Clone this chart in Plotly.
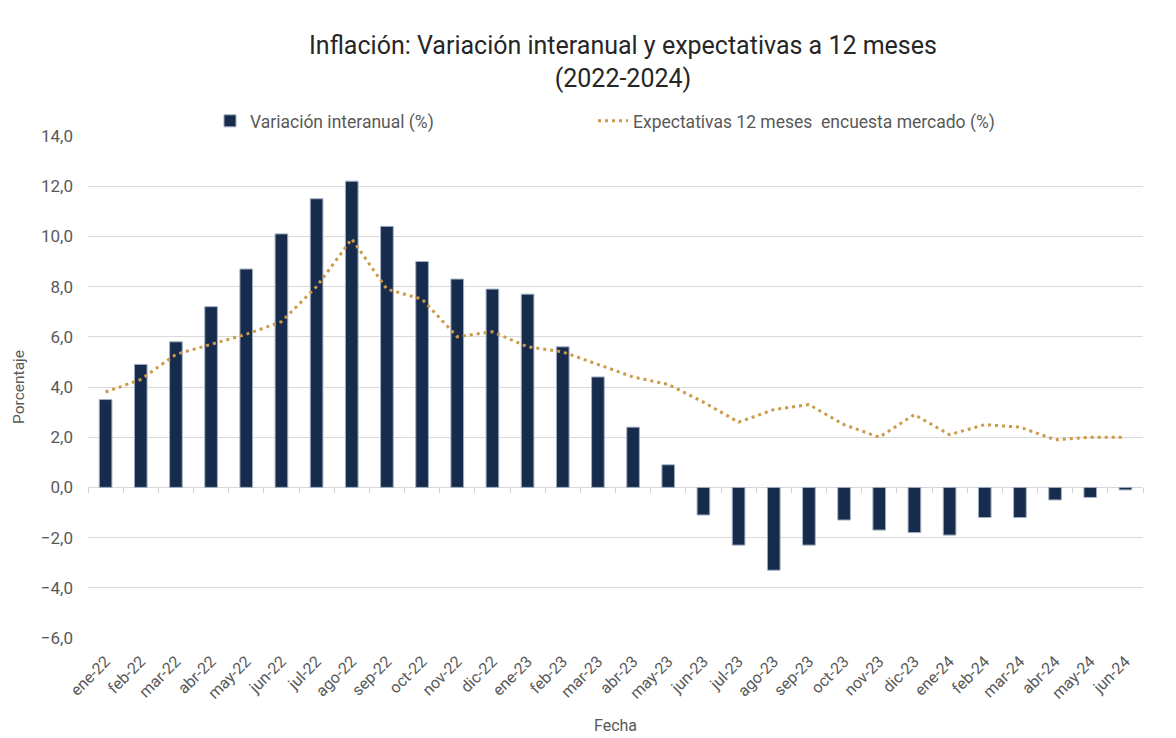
import plotly.graph_objects as go

meses = ["ene-22","feb-22","mar-22","abr-22","may-22","jun-22","jul-22","ago-22","sep-22","oct-22",
         "nov-22","dic-22","ene-23","feb-23","mar-23","abr-23","may-23","jun-23","jul-23","ago-23",
         "sep-23","oct-23","nov-23","dic-23","ene-24","feb-24","mar-24","abr-24","may-24","jun-24"]
variacion = [3.5, 4.9, 5.8, 7.2, 8.7, 10.1, 11.5, 12.2, 10.4, 9.0,
             8.3, 7.9, 7.7, 5.6, 4.4, 2.4, 0.9, -1.1, -2.3, -3.3,
             -2.3, -1.3, -1.7, -1.8, -1.9, -1.2, -1.2, -0.5, -0.4, -0.1]
expectativas = [3.8, 4.3, 5.3, 5.7, 6.1, 6.6, 8.0, 9.9, 7.9, 7.5,
                6.0, 6.2, 5.6, 5.4, 4.9, 4.4, 4.1, 3.4, 2.6, 3.1,
                3.3, 2.5, 2.0, 2.9, 2.1, 2.5, 2.4, 1.9, 2.0, 2.0]

FONT = "Roboto, sans-serif"
GRAY = "#595959"
GRID = "#D9D9D9"
Y_MIN, Y_MAX = -6, 14

fig = go.Figure()
fig.add_trace(go.Bar(
    x=meses, y=variacion, name="Variación interanual (%)",
    marker=dict(color="#172B4D", line=dict(color="#A3AFC2", width=1)),
    width=0.36, legend="legend",
))
fig.add_trace(go.Scatter(
    x=meses, y=expectativas, name="Expectativas 12 meses  encuesta mercado (%)",
    mode="lines", line=dict(color="#CC9A48", width=3, dash="3px,4px"),
    legend="legend2",
))
# invisible helper trace so the category-boundary tick axis (on y = 0) is drawn
fig.add_trace(go.Scatter(
    x=list(range(len(meses))), y=[None] * len(meses), xaxis="x2",
    showlegend=False, hoverinfo="skip", mode="markers",
))

legend_font = dict(family=FONT, size=17.5, color=GRAY)
fig.update_layout(
    width=1168, height=730,
    paper_bgcolor="white", plot_bgcolor="white",
    separators=",.",
    font=dict(family=FONT, color=GRAY, size=16),
    margin=dict(l=80, r=33, t=128, b=100, autoexpand=False),
    title=dict(
        text="Inflación: Variación interanual y expectativas a 12 meses<br>(2022-2024)",
        x=615/1168, xref="container", xanchor="center",
        y=1 - 46/730, yref="container", yanchor="middle",
        font=dict(family=FONT, size=25, color="#262626"),
    ),
    legend=dict(
        orientation="h", x=(202-80)/1055, xanchor="left", y=1.03, yanchor="middle",
        font=legend_font, bgcolor="rgba(0,0,0,0)",
    ),
    legend2=dict(
        orientation="h", x=(585-80)/1055, xanchor="left", y=1.03, yanchor="middle",
        font=legend_font, bgcolor="rgba(0,0,0,0)",
    ),
    showlegend=True,
    xaxis=dict(
        type="category", tickangle=-45, showgrid=False, showline=False, ticks="",
        ticklabelstandoff=10, automargin=False,
        tickfont=dict(family=FONT, size=16, color=GRAY),
        title=dict(text="Fecha", font=dict(family=FONT, size=16, color=GRAY), standoff=18),
    ),
    xaxis2=dict(
        overlaying="x", anchor="free",
        position=(0 - Y_MIN) / (Y_MAX - Y_MIN),
        range=[-0.5, len(meses) - 0.5], tick0=-0.5, dtick=1,
        ticks="outside", ticklen=5, tickwidth=1, tickcolor="#CFCFCF",
        showticklabels=False, showgrid=False, zeroline=False, showline=False,
        side="bottom", automargin=False,
    ),
    yaxis=dict(
        range=[Y_MIN, Y_MAX], dtick=2, tickformat=".1f",
        showgrid=True, gridcolor=GRID, gridwidth=1,
        zeroline=True, zerolinecolor=GRID, zerolinewidth=1,
        showline=False, ticks="", ticklabelstandoff=14, automargin=False,
        tickfont=dict(family=FONT, size=17, color=GRAY),
        title=dict(text="Porcentaje", font=dict(family=FONT, size=15.5, color=GRAY), standoff=12),
    ),
)

fig.write_html("out.html")
